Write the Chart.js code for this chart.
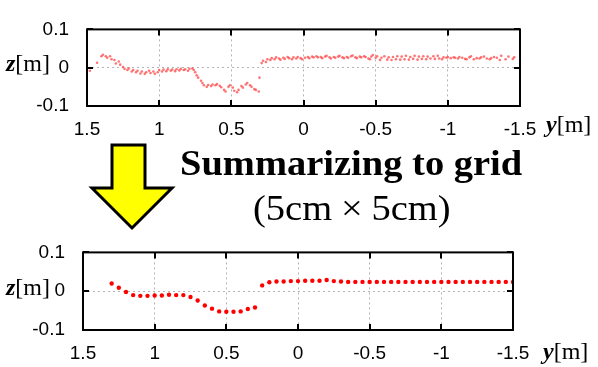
<!DOCTYPE html>
<html>
<head>
<meta charset="utf-8">
<script src="https://cdn.jsdelivr.net/npm/chart.js@4"></script>
<style>
  body { margin: 0; background: #fff; }
  #wrap { position: relative; width: 598px; height: 367px; overflow: hidden; font-family: 'Liberation Serif', serif; color: #000; }
  .box { position: absolute; left: 0; width: 598px; }
  .lbl { position: absolute; font-size: 24px; line-height: 1; white-space: nowrap; }
  .title { position: absolute; line-height: 1; white-space: nowrap; transform-origin: left top; transform: scaleX(1.1); }
</style>
</head>
<body>
<div id="wrap">
  <div class="box" style="top:0;height:140px"><canvas id="rawChart"></canvas></div>
  <div class="box" style="top:223px;height:144px"><canvas id="gridChart"></canvas></div>

  <svg style="position:absolute;left:0;top:0" width="598" height="367">
    <polygon points="112,145 145,145 145,188 172,188 132,228 92,188 112,188" fill="#ffff00" stroke="#000" stroke-width="3" stroke-linejoin="miter"/>
  </svg>

  <div class="title" style="left:180px;top:146px;font-size:35px;font-weight:bold">Summarizing to grid</div>
  <div class="title" style="left:253px;top:191px;font-size:35px">(5cm<span style="padding:0 8px">×</span>5cm)</div>

  <div class="lbl" style="left:6px;top:51px"><b><i>z</i></b>[m]</div>
  <div class="lbl" style="left:546px;top:112px"><b><i>y</i></b>[m]</div>
  <div class="lbl" style="left:6px;top:275px"><b><i>z</i></b>[m]</div>
  <div class="lbl" style="left:543px;top:339px"><b><i>y</i></b>[m]</div>
</div>

<script>
// raw scan points (top)
const rawY = [1.48, 1.43, 1.40, 1.39, 1.37, 1.36, 1.34, 1.33, 1.31, 1.30, 1.28, 1.27, 1.25, 1.24, 1.22, 1.21, 1.19, 1.18, 1.16, 1.15,
  1.13, 1.12, 1.10, 1.09, 1.07, 1.06, 1.04, 1.03, 1.01, 1.00, 0.98, 0.97, 0.95, 0.94, 0.92, 0.91, 0.89, 0.88, 0.86, 0.85,
  0.83, 0.82, 0.80, 0.79, 0.77, 0.76, 0.75, 0.74, 0.73, 0.71, 0.70, 0.69, 0.67, 0.66, 0.64, 0.63, 0.61, 0.60, 0.58, 0.57,
  0.55, 0.54, 0.52, 0.51, 0.49, 0.48, 0.46, 0.45, 0.43, 0.42, 0.40, 0.39, 0.37, 0.36, 0.34, 0.33, 0.31, 0.305, 0.29, 0.28,
  0.26, 0.25, 0.23, 0.22, 0.20, 0.19, 0.17, 0.16, 0.14, 0.13, 0.11, 0.10, 0.08, 0.07, 0.05, 0.04, 0.02, 0.01,
  -0.01, -0.03, -0.04, -0.06, -0.07, -0.09, -0.10, -0.12, -0.13, -0.15, -0.16, -0.18, -0.19, -0.21, -0.22, -0.24, -0.25, -0.27,
  -0.28, -0.30, -0.31, -0.33, -0.34, -0.36, -0.37, -0.39, -0.40, -0.42, -0.43, -0.45, -0.46, -0.47, -0.48, -0.50, -0.51, -0.53,
  -0.54, -0.56, -0.58, -0.59, -0.61, -0.62, -0.64, -0.65, -0.67, -0.68, -0.70, -0.71, -0.73, -0.74, -0.76, -0.77, -0.79, -0.80,
  -0.82, -0.83, -0.85, -0.86, -0.88, -0.90, -0.91, -0.93, -0.94, -0.96, -0.97, -0.99, -1.00, -1.02, -1.04, -1.05, -1.07, -1.08,
  -1.10, -1.12, -1.13, -1.15, -1.16, -1.18, -1.20, -1.22, -1.23, -1.25, -1.27, -1.29, -1.30, -1.32, -1.34, -1.36, -1.37, -1.40,
  -1.42, -1.45, -1.46];
const rawZ = [-0.008, 0.013, 0.030, 0.034, 0.030, 0.026, 0.030, 0.022, 0.020, 0.011, 0.016, 0.008, 0.002, -0.003, -0.006, -0.002, -0.010, -0.006, -0.012, -0.008,
  -0.015, -0.010, -0.016, -0.012, -0.008, -0.014, -0.010, -0.016, -0.012, -0.006, -0.010, -0.005, -0.009, -0.004, -0.008, -0.005, -0.009, -0.004, -0.007, -0.003,
  -0.006, -0.004, -0.008, -0.003, -0.002, -0.006, -0.012, -0.020, -0.026, -0.034, -0.040, -0.046, -0.050, -0.045, -0.048, -0.044, -0.046, -0.043, -0.047, -0.051,
  -0.058, -0.062, -0.050, -0.046, -0.052, -0.060, -0.064, -0.058, -0.048, -0.052, -0.044, -0.040, -0.046, -0.050, -0.056, -0.058, -0.062, -0.026, 0.012, 0.018,
  0.015, 0.022, 0.020, 0.025, 0.022, 0.027, 0.024, 0.021, 0.026, 0.023, 0.028, 0.025, 0.022, 0.027, 0.024, 0.028, 0.025, 0.022,
  0.026, 0.028, 0.025, 0.029, 0.027, 0.030, 0.027, 0.028, 0.025, 0.029, 0.031, 0.027, 0.024, 0.028, 0.026, 0.029, 0.031, 0.027,
  0.025, 0.028, 0.026, 0.030, 0.032, 0.027, 0.025, 0.029, 0.027, 0.030, 0.028, 0.024, 0.022, 0.029, 0.033, 0.026, 0.030, 0.020,
  0.026, 0.030, 0.021, 0.027, 0.020, 0.028, 0.022, 0.030, 0.021, 0.029, 0.022, 0.031, 0.021, 0.028, 0.023, 0.031, 0.021, 0.029,
  0.023, 0.030, 0.022, 0.029, 0.024, 0.030, 0.023, 0.031, 0.024, 0.022, 0.027, 0.026, 0.028, 0.025, 0.027, 0.026, 0.024, 0.028,
  0.026, 0.023, 0.022, 0.027, 0.030, 0.022, 0.025, 0.024, 0.027, 0.029, 0.024, 0.022, 0.025, 0.028, 0.026, 0.020, 0.031, 0.022,
  0.029, 0.023, 0.027];

// grid-averaged points, 5cm cells (bottom)
const gridY = [1.30, 1.25, 1.20, 1.15, 1.10, 1.05, 1.00, 0.95, 0.90, 0.85, 0.80, 0.75, 0.70, 0.65, 0.60, 0.55, 0.50, 0.45, 0.40, 0.35,
  0.30, 0.25, 0.20, 0.15, 0.10, 0.05, 0.00, -0.05, -0.10, -0.15, -0.20, -0.25, -0.30, -0.35, -0.40, -0.45, -0.50, -0.55, -0.60, -0.65,
  -0.70, -0.75, -0.80, -0.85, -0.90, -0.95, -1.00, -1.05, -1.10, -1.15, -1.20, -1.25, -1.30, -1.35, -1.40, -1.45, -1.50];
const gridZ = [0.020, 0.009, -0.002, -0.010, -0.012, -0.012, -0.011, -0.011, -0.009, -0.010, -0.010, -0.015, -0.024, -0.037, -0.045, -0.052, -0.053, -0.053, -0.052, -0.046,
  -0.042, 0.015, 0.023, 0.025, 0.025, 0.026, 0.026, 0.027, 0.027, 0.027, 0.029, 0.026, 0.025, 0.024, 0.024, 0.024, 0.024, 0.024, 0.024, 0.024,
  0.024, 0.024, 0.024, 0.024, 0.024, 0.024, 0.024, 0.024, 0.024, 0.024, 0.024, 0.024, 0.024, 0.024, 0.024, 0.024, 0.024];

const xTicks = [1.5, 1, 0.5, 0, -0.5, -1, -1.5];
const zTicks = [0.1, 0, -0.1];

// gnuplot-like frame with inward ticks
const frameTicks = {
  id: 'frameTicks',
  afterDraw(chart) {
    const { ctx, chartArea: { left, top, right, bottom }, scales: { x, y } } = chart;
    ctx.save();
    ctx.strokeStyle = '#000';
    ctx.lineWidth = 2;
    ctx.strokeRect(left, top, right - left, bottom - top);
    ctx.beginPath();
    xTicks.forEach(v => {
      const px = Math.round(x.getPixelForValue(v));
      ctx.moveTo(px, bottom); ctx.lineTo(px, bottom - 6);
      ctx.moveTo(px, top); ctx.lineTo(px, top + 6);
    });
    zTicks.forEach(v => {
      const py = Math.round(y.getPixelForValue(v));
      ctx.moveTo(left, py); ctx.lineTo(left + 6, py);
      ctx.moveTo(right, py); ctx.lineTo(right - 6, py);
    });
    ctx.stroke();
    ctx.restore();
  }
};

function makeChart(id, ys, zs, style, box) {
  const ctx = document.getElementById(id).getContext('2d');
  return new Chart(ctx, {
    type: 'scatter',
    data: {
      datasets: [{
        data: ys.map((v, i) => ({ x: v, y: zs[i] })),
        backgroundColor: style.color,
        borderWidth: 0,
        pointRadius: style.radius,
        pointStyle: style.shape
      }]
    },
    options: {
      responsive: true,
      maintainAspectRatio: false,
      animation: false,
      layout: { padding: { top: box.top, right: box.right, left: 0, bottom: 0 } },
      plugins: { legend: { display: false }, tooltip: { enabled: false } },
      scales: {
        x: {
          type: 'linear',
          reverse: true,
          min: -1.5,
          max: 1.5,
          afterFit(scale) { scale.height = box.xh; },
          afterBuildTicks(scale) { scale.ticks = xTicks.map(v => ({ value: v })); },
          ticks: {
            color: '#000', font: { family: 'Liberation Sans', size: 19 }, padding: box.xpad, maxRotation: 0,
            callback: v => String(v)
          },
          grid: { color: '#b4b4b4', lineWidth: 1, drawTicks: false },
          border: { display: false, dash: [2, 3] }
        },
        y: {
          min: -0.1,
          max: 0.1,
          afterFit(scale) { scale.width = box.left; },
          afterBuildTicks(scale) { scale.ticks = zTicks.map(v => ({ value: v })); },
          ticks: {
            color: '#000', font: { family: 'Liberation Sans', size: 19 }, padding: box.ypad,
            callback: v => String(v)
          },
          grid: { color: '#b4b4b4', lineWidth: 1, drawTicks: false },
          border: { display: false, dash: [2, 3] }
        }
      }
    },
    plugins: [frameTicks]
  });
}

makeChart('rawChart', rawY, rawZ,
  { color: 'rgba(255, 70, 70, 0.75)', radius: 1.3, shape: 'circle' },
  { top: 20, right: 78, left: 87, xh: 34, xpad: 12, ypad: 18 });

makeChart('gridChart', gridY, gridZ,
  { color: '#ff0000', radius: 2.2, shape: 'circle' },
  { top: 20, right: 85, left: 83, xh: 37, xpad: 12, ypad: 18 });
</script>
</body>
</html>
